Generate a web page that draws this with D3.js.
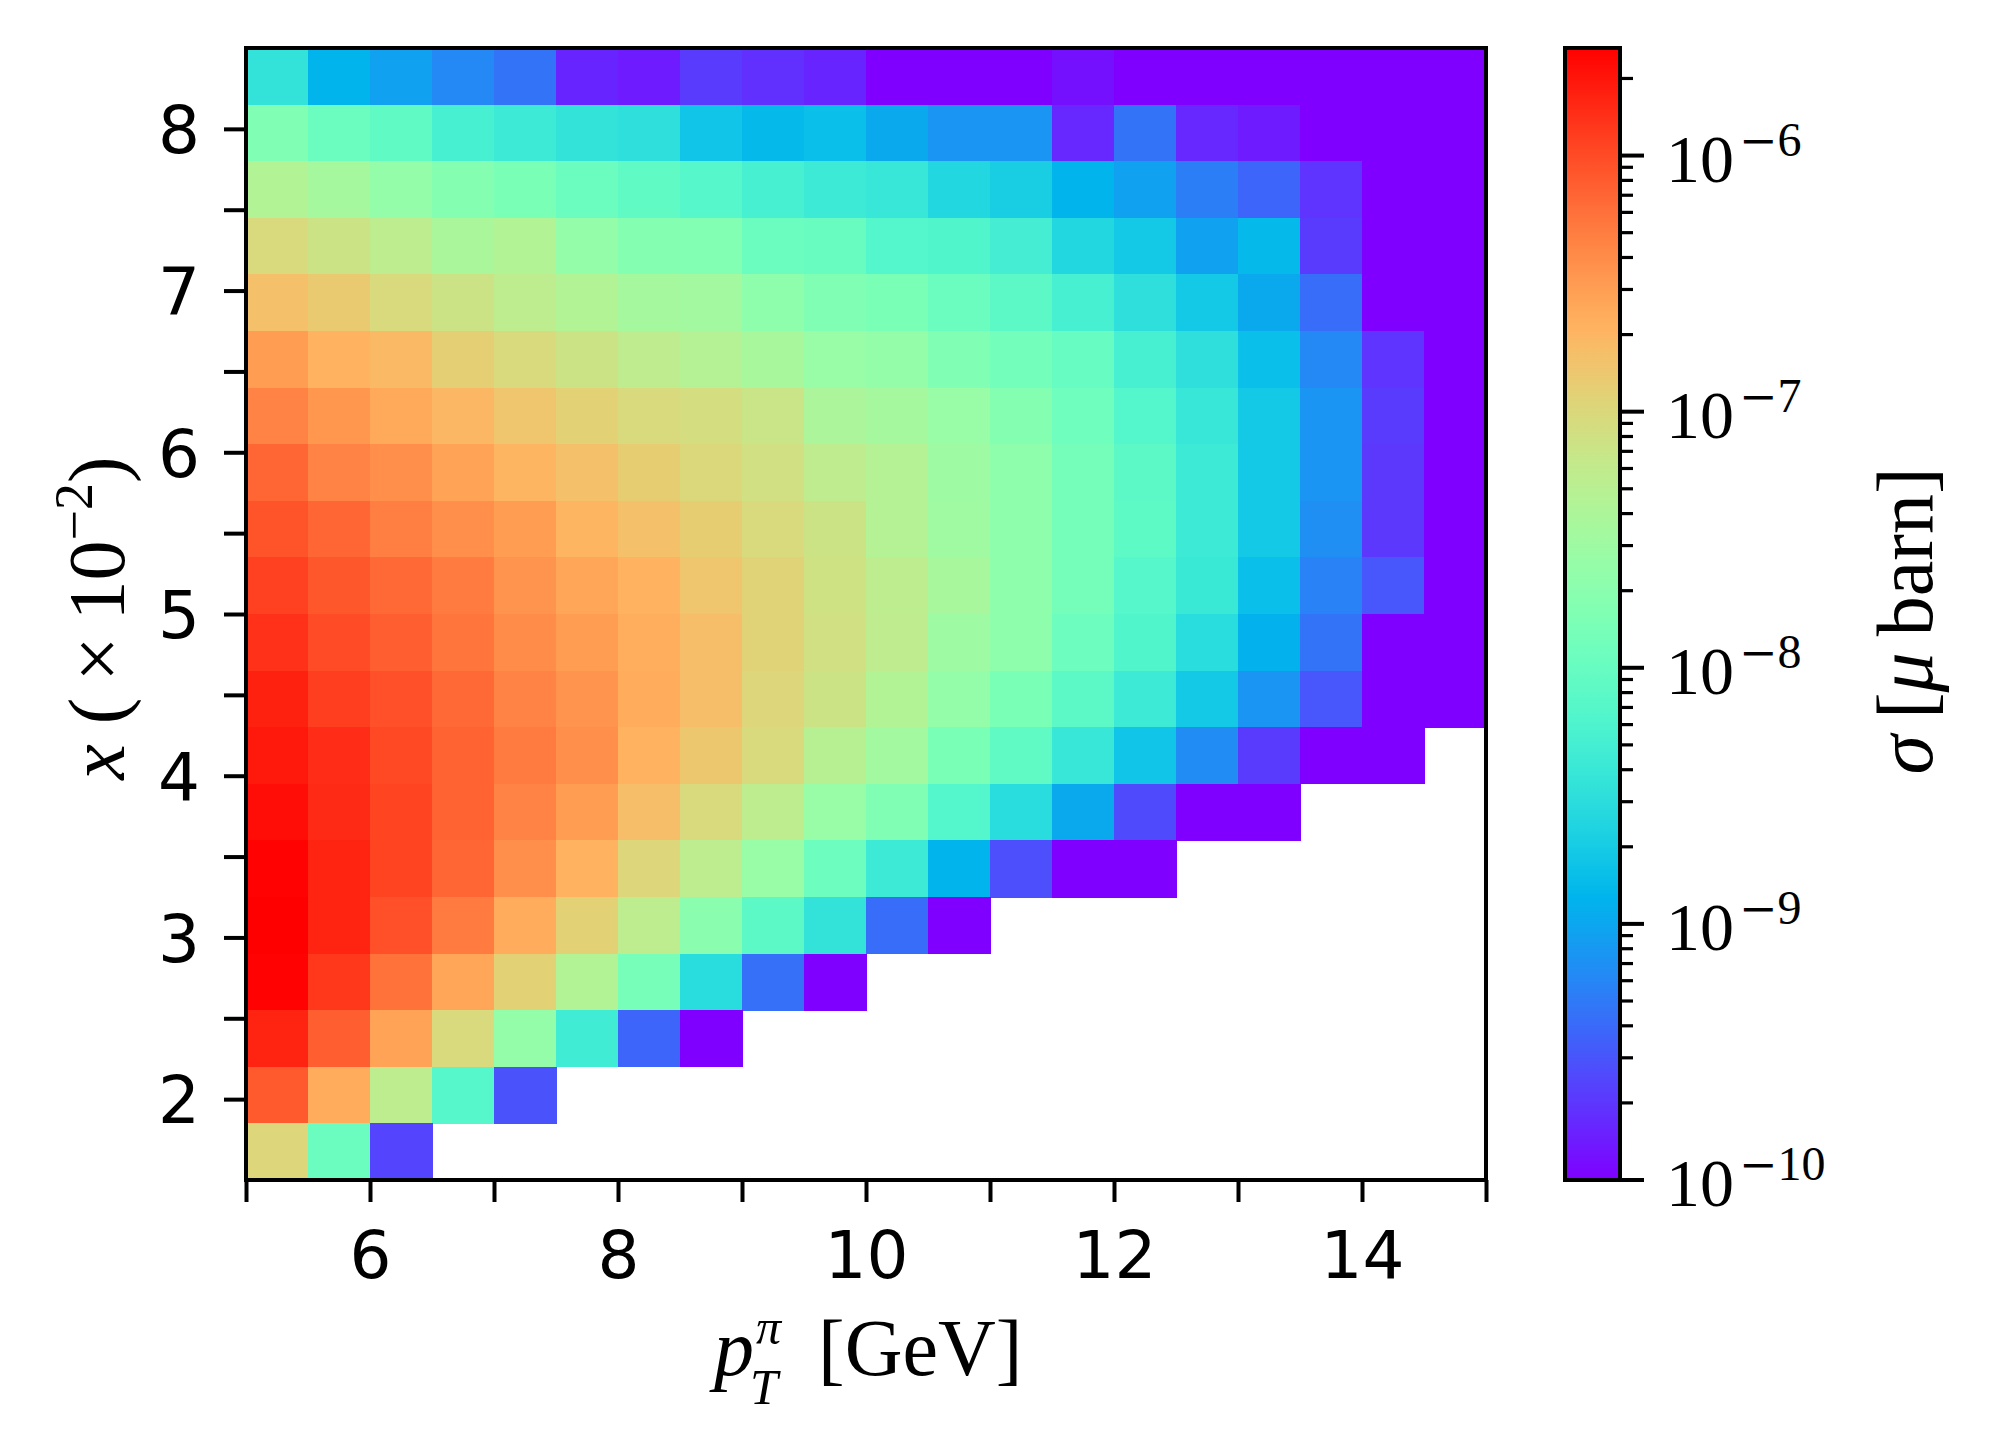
<!DOCTYPE html>
<html><head><meta charset="utf-8">
<script src="https://cdn.jsdelivr.net/npm/d3@7"></script>
<style>body{margin:0;background:#fff}</style>
</head><body>
<svg id="chart" width="1998" height="1453" xmlns="http://www.w3.org/2000/svg"></svg>
<script>
// ---------------- DATA ----------------
// p_T bin edges [GeV]
const xEdges = [5,5.5,6,6.5,7,7.5,8,8.5,9,9.5,10,10.5,11,11.5,12,12.5,13,13.5,14,14.5,15];
// x bin edges (x10^-2), listed from the top row downwards
const yEdgesTopDown = [8.5,8.15,7.8,7.45,7.1,6.75,6.4,6.05,5.7,5.35,5.0,4.65,4.3,3.95,3.6,3.25,2.9,2.55,2.2,1.85,1.5];
const xTickValues = [5,6,7,8,9,10,11,12,13,14,15];
const xTickLabels = ["","6","","8","","10","","12","","14",""];
const yTickValues = [2,2.5,3,3.5,4,4.5,5,5.5,6,6.5,7,7.5,8];
const yTickLabels = ["2","","3","","4","","5","","6","","7","","8"];
const cbarMajorExp = [-10,-9,-8,-7,-6];
// log10(sigma / mu barn); U = below colour range (< 1e-10); null = empty bin
const U = -10.3;
const N = null;
const row00 = [-8.45,-8.90,-9.03,-9.21,-9.34,-9.80,-9.85,-9.67,-9.74,-9.80,U,U,U,-9.91,U,U,U,U,U,U];
const row01 = [-7.79,-7.97,-8.06,-8.28,-8.37,-8.45,-8.50,-8.76,-8.85,-8.81,-8.98,-9.12,-9.12,-9.78,-9.34,-9.78,-9.85,U,U,U];
const row02 = [-7.35,-7.46,-7.62,-7.75,-7.84,-7.97,-8.06,-8.15,-8.28,-8.37,-8.41,-8.59,-8.68,-8.90,-9.03,-9.27,-9.43,-9.71,U,U];
const row03 = [-7.02,-7.13,-7.26,-7.42,-7.35,-7.62,-7.75,-7.77,-7.97,-7.99,-8.17,-8.19,-8.30,-8.59,-8.72,-9.03,-8.85,-9.67,U,U];
const row04 = [-6.78,-6.87,-7.02,-7.13,-7.26,-7.35,-7.46,-7.48,-7.66,-7.79,-7.84,-7.97,-8.10,-8.28,-8.50,-8.72,-8.98,-9.38,U,U];
const row05 = [-6.51,-6.67,-6.73,-6.91,-7.02,-7.13,-7.24,-7.33,-7.44,-7.57,-7.62,-7.79,-7.90,-8.01,-8.28,-8.50,-8.81,-9.21,-9.71,U];
const row06 = [-6.34,-6.47,-6.60,-6.71,-6.82,-6.93,-7.02,-7.06,-7.15,-7.40,-7.46,-7.57,-7.75,-7.93,-8.17,-8.41,-8.72,-9.12,-9.67,U];
const row07 = [-6.16,-6.34,-6.42,-6.56,-6.69,-6.78,-6.89,-7.00,-7.09,-7.24,-7.33,-7.53,-7.66,-7.88,-8.10,-8.37,-8.72,-9.12,-9.69,U];
const row08 = [-6.05,-6.16,-6.31,-6.42,-6.51,-6.69,-6.78,-6.89,-7.02,-7.13,-7.33,-7.51,-7.66,-7.88,-8.08,-8.37,-8.72,-9.16,-9.69,U];
const row09 = [-5.94,-6.07,-6.18,-6.29,-6.45,-6.58,-6.67,-6.82,-6.95,-7.11,-7.26,-7.44,-7.66,-7.88,-8.15,-8.39,-8.81,-9.25,-9.51,U];
const row10 = [-5.85,-6.00,-6.11,-6.25,-6.40,-6.51,-6.64,-6.76,-6.95,-7.09,-7.24,-7.53,-7.66,-7.95,-8.19,-8.54,-8.92,-9.34,U,U];
const row11 = [-5.76,-5.92,-6.03,-6.18,-6.34,-6.45,-6.62,-6.76,-6.98,-7.13,-7.35,-7.62,-7.84,-8.10,-8.37,-8.72,-9.12,-9.51,U,U];
const row12 = [-5.72,-5.83,-5.98,-6.14,-6.29,-6.42,-6.67,-6.84,-7.02,-7.31,-7.48,-7.84,-8.06,-8.41,-8.76,-9.18,-9.67,U,U,N];
const row13 = [-5.65,-5.81,-5.96,-6.14,-6.34,-6.51,-6.76,-7.02,-7.26,-7.57,-7.79,-8.17,-8.54,-8.98,-9.58,U,U,N,N,N];
const row14 = [-5.59,-5.78,-5.96,-6.16,-6.42,-6.67,-6.98,-7.26,-7.57,-7.95,-8.37,-8.90,-9.56,U,U,N,N,N,N,N];
const row15 = [-5.58,-5.78,-6.03,-6.29,-6.62,-6.93,-7.26,-7.70,-8.10,-8.45,-9.38,U,N,N,N,N,N,N,N,N];
const row16 = [-5.59,-5.89,-6.23,-6.58,-6.93,-7.35,-7.86,-8.54,-9.36,U,N,N,N,N,N,N,N,N,N,N];
const row17 = [-5.78,-6.11,-6.56,-7.02,-7.62,-8.34,-9.43,U,N,N,N,N,N,N,N,N,N,N,N,N];
const row18 = [-6.09,-6.62,-7.26,-8.15,-9.54,N,N,N,N,N,N,N,N,N,N,N,N,N,N,N];
const row19 = [-6.98,-7.97,-9.62,N,N,N,N,N,N,N,N,N,N,N,N,N,N,N,N,N];
const rowsTopDown = [row00,row01,row02,row03,row04,row05,row06,row07,row08,row09,
                     row10,row11,row12,row13,row14,row15,row16,row17,row18,row19];

// ---------------- CHART ----------------
const svg = d3.select("#chart");
const serif = "'Liberation Serif','Times New Roman',serif";
const sans = "'DejaVu Sans',sans-serif";

const x = d3.scaleLinear().domain([5,15]).range([246,1486]);
const y = d3.scaleLinear().domain([1.5,8.5]).range([1180,48]);

const cells = [];
rowsTopDown.forEach((row, r) => {
  row.forEach((v, c) => {
    if (v === null) return;
    cells.push({x0: xEdges[c], x1: xEdges[c+1], y0: yEdgesTopDown[r+1], y1: yEdgesTopDown[r], sigma: Math.pow(10, v)});
  });
});
const vmax = d3.max(cells, d => d.sigma);
const vmin = 1e-10;

function rainbow(t) {
  t = Math.max(0, Math.min(1, t));
  const r = Math.min(1, Math.abs(2*t - 0.5));
  const g = Math.sin(Math.PI*t);
  const b = Math.cos(Math.PI*t/2);
  return d3.rgb(Math.round(r*255), Math.round(g*255), Math.round(b*255)).formatHex();
}
const norm = d3.scaleLog().domain([vmin, vmax]).range([0,1]).clamp(true);
const color = v => rainbow(norm(v));

// heatmap
svg.append("g").selectAll("rect").data(cells).join("rect")
  .attr("x", d => x(d.x0))
  .attr("y", d => y(d.y1))
  .attr("width", d => x(d.x1) - x(d.x0) + 0.5)
  .attr("height", d => y(d.y0) - y(d.y1) + 0.5)
  .attr("fill", d => color(d.sigma))
  .attr("shape-rendering", "crispEdges");

// frame
svg.append("rect").attr("x", 246).attr("y", 48).attr("width", 1240).attr("height", 1132)
  .attr("fill", "none").attr("stroke", "#000").attr("stroke-width", 4);

// x axis
const xAxis = d3.axisBottom(x).tickValues(xTickValues)
  .tickFormat((d,i) => xTickLabels[i]).tickSize(22).tickPadding(16);
const gx = svg.append("g").attr("transform", "translate(0,1180)").call(xAxis);
gx.select(".domain").remove();
gx.selectAll(".tick line").attr("stroke", "#000").attr("stroke-width", 4);
gx.selectAll(".tick text").attr("font-family", sans).attr("font-size", 66).attr("fill", "#000")
  .attr("dy", null).attr("y", 98);

// y axis
const yAxis = d3.axisLeft(y).tickValues(yTickValues)
  .tickFormat((d,i) => yTickLabels[i]).tickSize(22).tickPadding(20);
const gy = svg.append("g").attr("transform", "translate(246,0)").call(yAxis);
gy.select(".domain").remove();
gy.selectAll(".tick line").attr("stroke", "#000").attr("stroke-width", 4);
gy.selectAll(".tick text").attr("font-family", sans).attr("font-size", 66).attr("fill", "#000")
  .attr("dy", "0.36em").attr("x", -46);

// x label: p_T^pi [GeV]
const xl = svg.append("text").attr("font-family", serif).attr("fill", "#000");
xl.append("tspan").attr("x", 714).attr("y", 1375).attr("font-size", 80).attr("font-style", "italic").text("p");
xl.append("tspan").attr("x", 756).attr("y", 1344).attr("font-size", 50).attr("font-style", "italic").text("π");
xl.append("tspan").attr("x", 750).attr("y", 1404).attr("font-size", 50).attr("font-style", "italic").text("T");
xl.append("tspan").attr("x", 818).attr("y", 1375).attr("font-size", 80).text("[GeV]");

// y label: x (x10^-2)
const yl = svg.append("text").attr("transform", "translate(124,618) rotate(-90)")
  .attr("text-anchor", "middle").attr("font-family", serif).attr("font-size", 80).attr("fill", "#000");
yl.append("tspan").attr("font-style", "italic").text("x");
yl.append("tspan").text(" (\u2009×\u200910");
yl.append("tspan").attr("font-size", 54).attr("dy", -32).text("−2");
yl.append("tspan").attr("dy", 32).text(")");

// colorbar
const cbX = 1565, cbW = 55;
const cbY = d3.scaleLog().domain([vmin, vmax]).range([1180, 48]);
const defs = svg.append("defs");
const grad = defs.append("linearGradient").attr("id", "cbgrad")
  .attr("x1", 0).attr("y1", 1).attr("x2", 0).attr("y2", 0);
d3.range(0, 1.0001, 0.01).forEach(t => {
  grad.append("stop").attr("offset", t).attr("stop-color", rainbow(t));
});
svg.append("rect").attr("x", cbX).attr("y", 48).attr("width", cbW).attr("height", 1132)
  .attr("fill", "url(#cbgrad)");

// colorbar ticks
const minorVals = [];
cbarMajorExp.forEach(e => {
  for (let k = 2; k <= 9; k++) { const v = k*Math.pow(10, e); if (v <= vmax) minorVals.push(v); }
});
const cbg = svg.append("g");
cbg.selectAll("line.minor").data(minorVals).join("line").attr("class", "minor")
  .attr("x1", cbX + cbW).attr("x2", cbX + cbW + 13)
  .attr("y1", d => cbY(d)).attr("y2", d => cbY(d))
  .attr("stroke", "#000").attr("stroke-width", 3.2);
cbg.selectAll("line.major").data(cbarMajorExp).join("line").attr("class", "major")
  .attr("x1", cbX + cbW).attr("x2", cbX + cbW + 24)
  .attr("y1", d => cbY(Math.pow(10, d))).attr("y2", d => cbY(Math.pow(10, d)))
  .attr("stroke", "#000").attr("stroke-width", 4);
const lbl = cbg.selectAll("text.cbl").data(cbarMajorExp).join("text").attr("class", "cbl")
  .attr("x", 1666).attr("y", d => cbY(Math.pow(10, d)) + 26)
  .attr("font-family", serif).attr("font-size", 68).attr("fill", "#000");
lbl.append("tspan").text("10");
lbl.append("tspan").attr("dx", 5).attr("dy", -26).attr("font-size", 46)
  .attr("font-family", "'DejaVu Serif',serif").attr("font-weight", 300).text("−");
lbl.append("tspan").attr("font-size", 48).text(d => String(-d));

svg.append("rect").attr("x", cbX).attr("y", 48).attr("width", cbW).attr("height", 1132)
  .attr("fill", "none").attr("stroke", "#000").attr("stroke-width", 4);

// colorbar label
const cl = svg.append("text").attr("transform", "translate(1932,621) rotate(-90)")
  .attr("text-anchor", "middle").attr("font-family", serif).attr("font-size", 80).attr("fill", "#000");
cl.append("tspan").attr("font-style", "italic").text("σ");
cl.append("tspan").text("\u2009[");
cl.append("tspan").attr("font-style", "italic").text("μ");
cl.append("tspan").text("\u2009barn]");
</script>
</body></html>
